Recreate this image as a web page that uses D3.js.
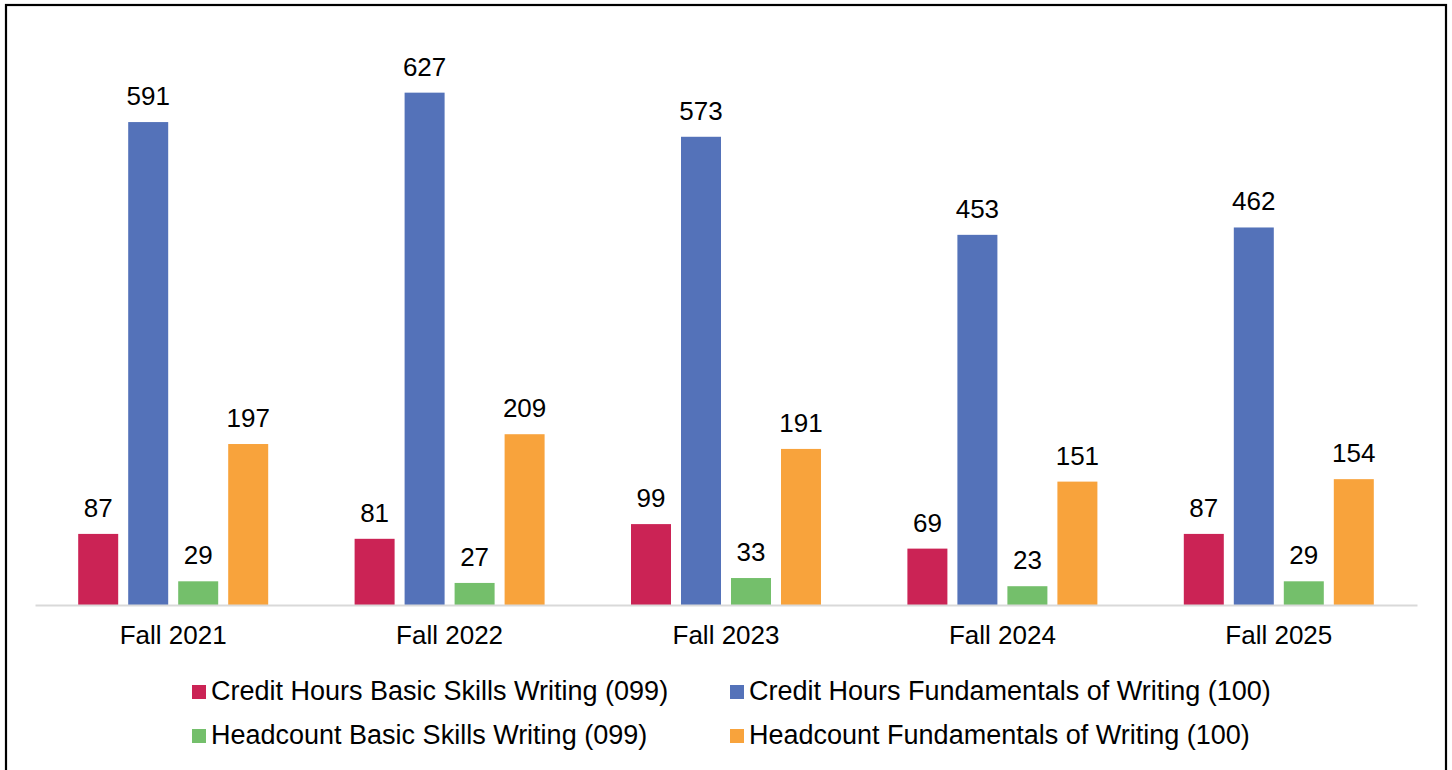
<!DOCTYPE html>
<html>
<head>
<meta charset="utf-8">
<script src="https://cdn.jsdelivr.net/npm/d3@7"></script>
<style>
  body { margin: 0; background: #fff; }
  text { font-family: "Liberation Sans", Arial, sans-serif; fill: #000; }
</style>
</head>
<body>
<div id="chart"></div>
<script>
// data
var terms = ["Fall 2021", "Fall 2022", "Fall 2023", "Fall 2024", "Fall 2025"];
var seriesNames = [
  "Credit Hours Basic Skills Writing (099)",
  "Credit Hours Fundamentals of Writing (100)",
  "Headcount Basic Skills Writing (099)",
  "Headcount Fundamentals of Writing (100)"
];
var creditBasic = [87, 81, 99, 69, 87];
var creditFund = [591, 627, 573, 453, 462];
var headBasic = [29, 27, 33, 23, 29];
var headFund = [197, 209, 191, 151, 154];
var colors = ["#cb2355", "#5472b9", "#74bf6b", "#f8a33c"];

var allSeries = [creditBasic, creditFund, headBasic, headFund];

var width = 1452, height = 770;

var svg = d3.select("#chart")
  .append("svg")
    .attr("width", width)
    .attr("height", height);

// outer frame
svg.append("rect")
  .attr("x", 6).attr("y", 5)
  .attr("width", 1440).attr("height", 780)
  .attr("fill", "none")
  .attr("stroke", "#000")
  .attr("stroke-width", 2.2);

var x0 = d3.scaleBand()
  .domain(terms)
  .range([35, 1417])
  .padding(0);

var x1 = d3.scaleBand()
  .domain(d3.range(seriesNames.length))
  .range([x0.bandwidth() / 2 - 95, x0.bandwidth() / 2 + 95])
  .paddingInner(0.2)
  .paddingOuter(0);

var y = d3.scaleLinear()
  .domain([0, 700])
  .range([605, 33]);

var groups = svg.append("g")
  .selectAll("g")
  .data(terms)
  .enter()
  .append("g")
    .attr("transform", function(d) { return "translate(" + x0(d) + ",0)"; });

groups.selectAll("rect")
  .data(function(d, i) { return allSeries.map(function(s, k) { return {k: k, v: s[i]}; }); })
  .enter()
  .append("rect")
    .attr("x", function(d) { return x1(d.k); })
    .attr("y", function(d) { return y(d.v); })
    .attr("width", x1.bandwidth())
    .attr("height", function(d) { return y(0) - y(d.v); })
    .attr("fill", function(d) { return colors[d.k]; });

groups.selectAll("text.val")
  .data(function(d, i) { return allSeries.map(function(s, k) { return {k: k, v: s[i]}; }); })
  .enter()
  .append("text")
    .attr("class", "val")
    .attr("x", function(d) { return x1(d.k) + x1.bandwidth() / 2; })
    .attr("y", function(d) { return y(d.v) - 17; })
    .attr("text-anchor", "middle")
    .style("font-size", "26px")
    .text(function(d) { return d.v; });

// baseline axis
var xAxis = svg.append("g")
  .attr("transform", "translate(0," + y(0) + ")")
  .call(d3.axisBottom(x0).tickSize(0).tickPadding(0));
xAxis.select(".domain")
  .attr("stroke", "#d9d9d9")
  .attr("stroke-width", 2);
xAxis.selectAll("text")
  .attr("dy", 0)
  .attr("y", 39)
  .style("font-size", "26px")
  .style("font-family", "'Liberation Sans', Arial, sans-serif")
  .attr("fill", "#000");

// legend
var legendPos = [[192, 700], [730, 700], [192, 744], [730, 744]];
var legend = svg.append("g")
  .selectAll("g")
  .data(seriesNames)
  .enter()
  .append("g")
    .attr("transform", function(d, i) { return "translate(" + legendPos[i][0] + "," + legendPos[i][1] + ")"; });

legend.append("rect")
  .attr("x", 0).attr("y", -15)
  .attr("width", 14).attr("height", 14)
  .attr("fill", function(d, i) { return colors[i]; });

legend.append("text")
  .attr("x", 19)
  .attr("y", 0)
  .style("font-size", "27px")
  .text(function(d) { return d; });
</script>
</body>
</html>
